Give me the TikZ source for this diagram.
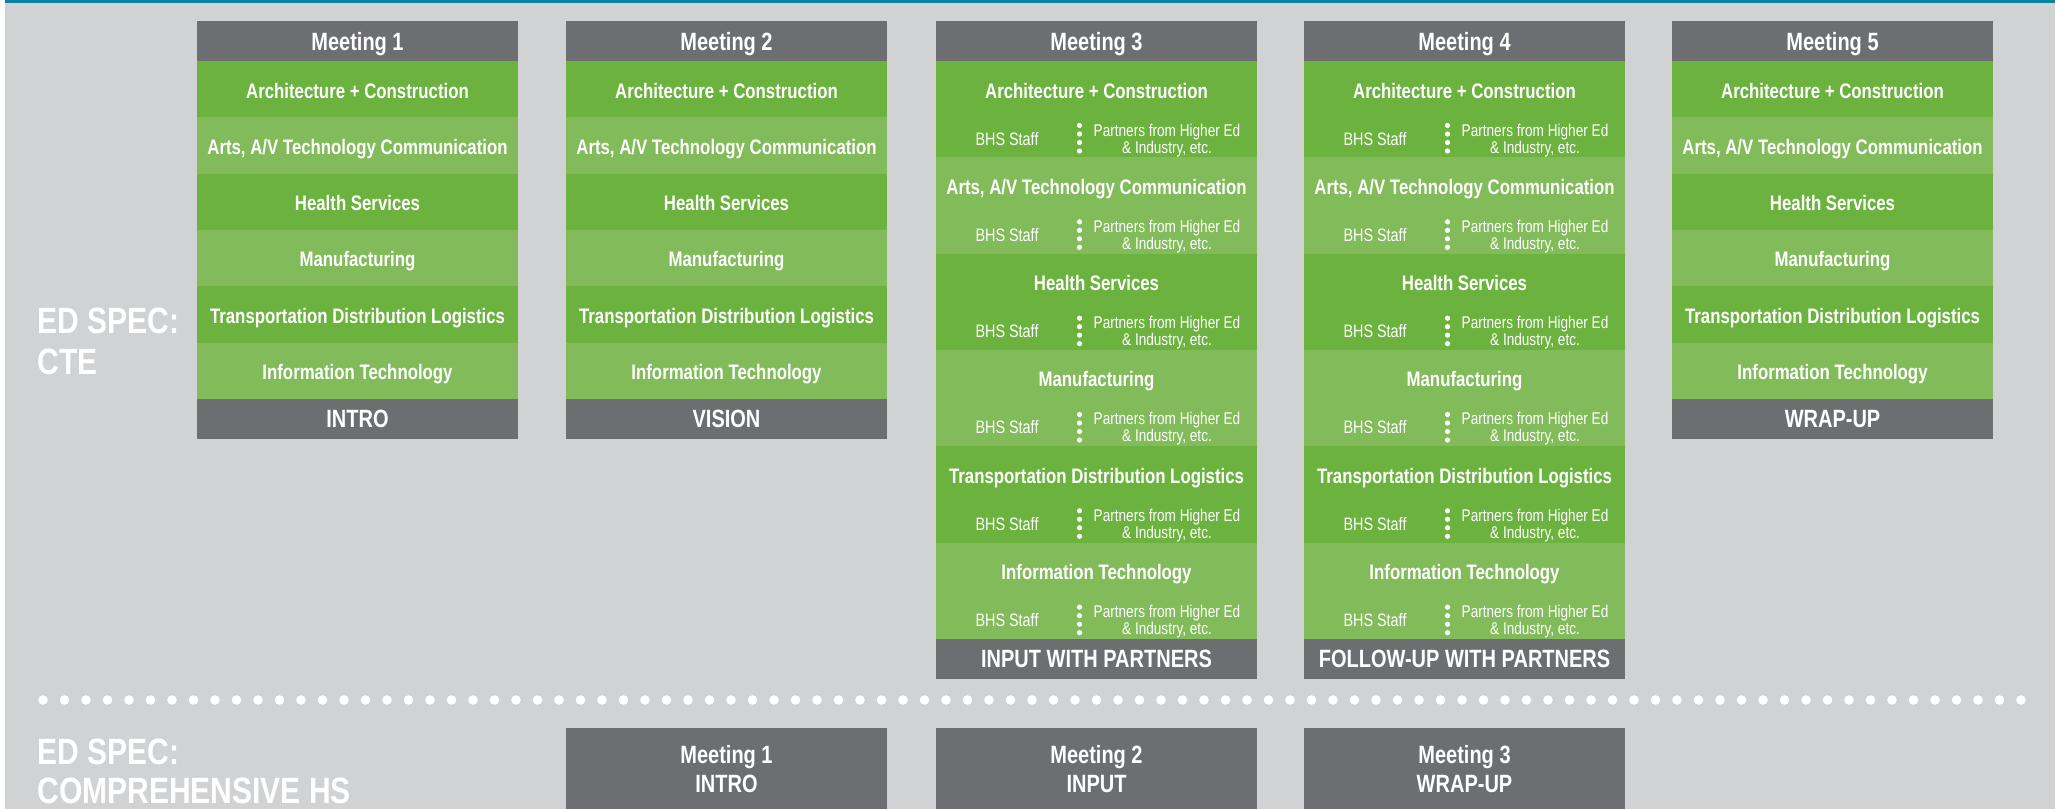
\documentclass[tikz,border=0pt]{standalone}
\usepackage{fontspec}
\setmainfont{Liberation Sans}
\newfontfamily\cnd[FakeStretch=0.8]{Liberation Sans}
\newfontfamily\cndbig[FakeStretch=0.82]{Liberation Sans}
\definecolor{bgc}{HTML}{D1D2D4}
\definecolor{hdr}{HTML}{6D6E71}
\definecolor{gdk}{HTML}{6CB23F}
\definecolor{glt}{HTML}{82BC5A}
\definecolor{topbar}{HTML}{0A83A0}
\newcommand\sectitle[1]{\ifcase#1\or Architecture + Construction\or Arts, A/V Technology Communication\or Health Services\or Manufacturing\or Transportation Distribution Logistics\or Information Technology\fi}
\begin{document}
\begin{tikzpicture}[x=0.5pt,y=-0.5pt,
  hd/.style={text=white,font=\cnd\bfseries\fontsize{12.5}{14}\selectfont,anchor=base,inner sep=0pt},
  ttl/.style={text=white,font=\cnd\bfseries\fontsize{10.5}{12}\selectfont,anchor=base,inner sep=0pt},
  sm/.style={text=white,font=\cnd\fontsize{9}{10}\selectfont,anchor=base,inner sep=0pt},
  ptn/.style={text=white,font=\cnd\fontsize{8.5}{9}\selectfont,anchor=base,inner sep=0pt},
  big/.style={text=white,font=\cndbig\bfseries\fontsize{18.3}{20}\selectfont,anchor=base west,inner sep=0pt},
  sdot/.style={fill=white},
]
\useasboundingbox (0,0) rectangle (2055,809);
\fill[bgc] (0,0) rectangle (2055,809);
\fill[topbar] (0,0) rectangle (2055,3);
\fill[white] (0,0) rectangle (5,809);

% left labels
\node[big] (cte1) at (37,333) {ED SPEC:};
\node[big] (cte2) at (37,374) {CTE};
\node[big] (hs1) at (37,764) {ED SPEC:};
\node[big] (hs2) at (37,803) {COMPREHENSIVE HS};

% simple columns
\foreach \c/\L/\ft in {1/197/INTRO,2/566/VISION,5/1672/WRAP-UP}{
  \fill[hdr] (\L,21) rectangle ++(321,40);
  \node[hd] (c\c-h) at ({\L+160.5},50.5) {Meeting \c};
  \foreach \i/\col in {1/gdk,2/glt,3/gdk,4/glt,5/gdk,6/glt}{
    \pgfmathsetmacro\s{61+56.33*(\i-1)}
    \fill[\col] (\L,\s) rectangle ++(321,56.33);
    \node[ttl] (c\c-r\i) at ({\L+160.5},{\s+37}) {\sectitle{\i}};
  }
  \fill[hdr] (\L,399) rectangle ++(321,40);
  \node[hd] (c\c-f) at ({\L+160.5},427.5) {\ft};
}

% partner columns
\foreach \c/\L/\ft in {3/936/INPUT WITH PARTNERS,4/1304/FOLLOW-UP WITH PARTNERS}{
  \fill[hdr] (\L,21) rectangle ++(321,40);
  \node[hd] (c\c-h) at ({\L+160.5},50.5) {Meeting \c};
  \foreach \i/\col in {1/gdk,2/glt,3/gdk,4/glt,5/gdk,6/glt}{
    \pgfmathsetmacro\s{61+96.33*(\i-1)}
    \fill[\col] (\L,\s) rectangle ++(321,96.33);
    \node[ttl] (c\c-r\i) at ({\L+160.5},{\s+37}) {\sectitle{\i}};
    \node[sm] (c\c-b\i) at ({\L+71},{\s+84}) {BHS Staff};
    \foreach \k in {0,...,3}{
      \fill[sdot] ({\L+143.5},{\s+64.5+8.5*\k}) circle (2.6);
    }
    \node[ptn] (c\c-p\i) at ({\L+231},{\s+75}) {Partners from Higher Ed};
    \node[ptn] (c\c-q\i) at ({\L+231},{\s+92}) {\& Industry, etc.};
  }
  \fill[hdr] (\L,639) rectangle ++(321,40);
  \node[hd] (c\c-f) at ({\L+160.5},667.5) {\ft};
}

% separator
\foreach \k in {0,...,92}{
  \fill[sdot] ({43+21.5*\k},700) circle (4.8);
}

% bottom row
\foreach \L/\n/\t in {566/1/INTRO,936/2/INPUT,1304/3/WRAP-UP}{
  \fill[hdr] (\L,728) rectangle (\L+321,809);
  \node[hd] (h\n-a) at ({\L+160.5},763.5) {Meeting \n};
  \node[hd] (h\n-b) at ({\L+160.5},792.5) {\t};
}
\end{tikzpicture}
\end{document}
